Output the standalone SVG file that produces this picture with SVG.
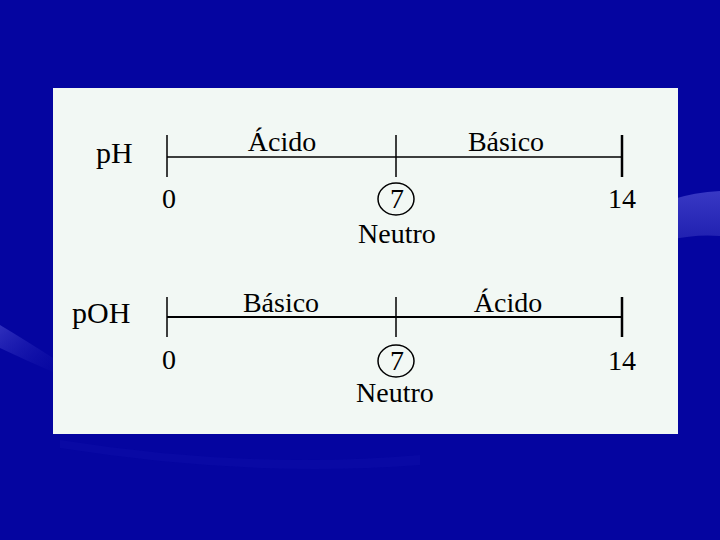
<svg xmlns="http://www.w3.org/2000/svg" width="720" height="540" viewBox="0 0 720 540">
  <defs>
    <linearGradient id="sw" x1="0" y1="0" x2="0" y2="1">
      <stop offset="0" stop-color="#3838c4"/>
      <stop offset="1" stop-color="#2020b0"/>
    </linearGradient>
    <linearGradient id="swl" x1="0" y1="0" x2="1" y2="1">
      <stop offset="0" stop-color="#3a3ac4" stop-opacity="0.8"/>
      <stop offset="1" stop-color="#1010a8" stop-opacity="0.2"/>
    </linearGradient>
  </defs>
  <style>
    .t { font-family: "Liberation Serif", "Times New Roman", serif; fill: #000; }
    .lbl { font-size: 28px; }
    .num { font-size: 28px; }
    .ax { font-size: 30px; }
    .ln { stroke: #000; stroke-width: 1.5; fill: none; }
    .tk { stroke: #000; stroke-width: 1.5; }
    .tkb { stroke: #000; stroke-width: 2.5; }
    .cir { stroke: #000; stroke-width: 1.5; fill: none; }
  </style>
  <rect x="0" y="0" width="720" height="540" fill="#0505a0"/>
  <path d="M670 200 Q695 192 720 191 L720 236 Q695 234 670 240 Z" fill="url(#sw)"/>
  <path d="M0 325 Q25 340 53 358 L53 372 Q25 360 0 348 Z" fill="url(#swl)"/>
  <path d="M60 440 Q250 470 420 455 L420 465 Q250 478 60 448 Z" fill="#0c0ca6" opacity="0.6"/>
  <rect id="panel" x="53" y="88" width="625" height="346" fill="#f2f8f4"/>

  <g id="connectors">
    <line class="ln" x1="167" y1="157" x2="622" y2="157"/>
    <line class="tk" x1="167" y1="135" x2="167" y2="177"/>
    <line class="tk" x1="396" y1="135" x2="396" y2="177"/>
    <line class="tkb" x1="622" y1="135" x2="622" y2="177"/>
    <line class="ln" x1="167" y1="317" x2="622" y2="317" style="stroke-width:2"/>
    <line class="tk" x1="167" y1="297" x2="167" y2="337"/>
    <line class="tk" x1="396" y1="297" x2="396" y2="337"/>
    <line class="tkb" x1="622" y1="297" x2="622" y2="337"/>
  </g>

  <g id="ph-scale">
    <text class="t ax" x="96" y="163">pH</text>
    <text class="t lbl" x="282" y="151" text-anchor="middle">Ácido</text>
    <text class="t lbl" x="506" y="151" text-anchor="middle">Básico</text>
    <text class="t num" x="169" y="208" text-anchor="middle">0</text>
    <g id="ph-neutral">
      <ellipse class="cir" cx="396" cy="199" rx="18" ry="16"/>
      <text class="t num" x="397" y="208" text-anchor="middle">7</text>
      <text class="t lbl" x="397" y="243" text-anchor="middle">Neutro</text>
    </g>
    <text class="t num" x="622" y="208" text-anchor="middle">14</text>
  </g>

  <g id="poh-scale">
    <text class="t ax" x="72" y="323">pOH</text>
    <text class="t lbl" x="281" y="312" text-anchor="middle">Básico</text>
    <text class="t lbl" x="508" y="312" text-anchor="middle">Ácido</text>
    <text class="t num" x="169" y="369" text-anchor="middle">0</text>
    <g id="poh-neutral">
      <ellipse class="cir" cx="396" cy="361" rx="18" ry="16"/>
      <text class="t num" x="397" y="370" text-anchor="middle">7</text>
      <text class="t lbl" x="395" y="402" text-anchor="middle">Neutro</text>
    </g>
    <text class="t num" x="622" y="370" text-anchor="middle">14</text>
  </g>
</svg>
